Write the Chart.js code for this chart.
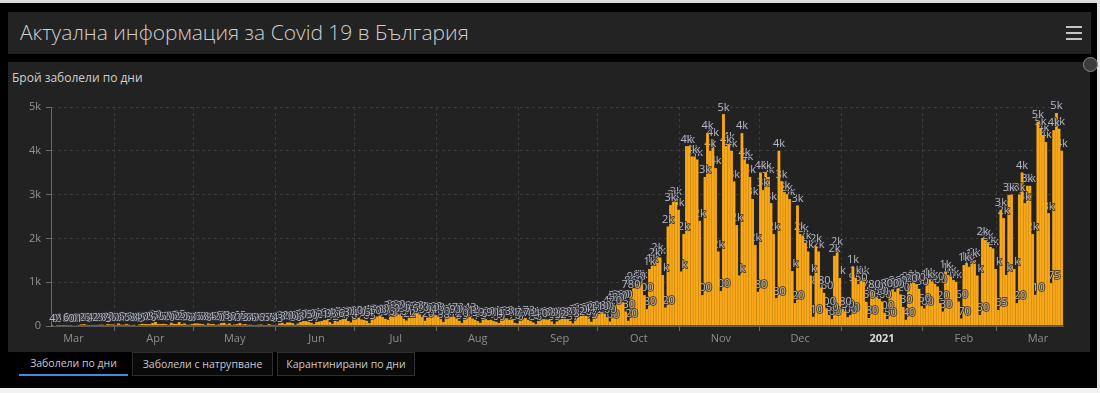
<!DOCTYPE html>
<html>
<head>
<meta charset="utf-8">
<script src="https://cdn.jsdelivr.net/npm/chart.js@4.4.1/dist/chart.umd.min.js"></script>
<style>
    body { margin: 0; background: #000; width: 1100px; height: 393px; overflow: hidden; position: relative; font-family: "Open Sans", "Noto Sans", sans-serif; }
    .edgeTop { position: absolute; left: 0; top: 0; width: 1100px; height: 3px; background: #d9d9d9; }
    .edgeRight { position: absolute; left: 1097px; top: 0; width: 3px; height: 393px; background: #e6e6e6; }
    .edgeBottom { position: absolute; left: 0; top: 388px; width: 1100px; height: 5px; background: #f2f2f2; }
    .header { position: absolute; left: 8px; top: 12px; width: 1083px; height: 42px; background: #232323; }
    .header h1 { margin: 0; position: absolute; left: 12px; top: 6px; font-size: 21px; font-weight: 300; color: #cfcfcf; white-space: nowrap; }
    .menu { position: absolute; left: 1058px; top: 14px; width: 16px; }
    .menu span { display: block; height: 2px; background: #c4c4c4; margin-bottom: 4px; }
    .panel { position: absolute; left: 8px; top: 62px; width: 1082px; height: 290px; background: #222; }
    .ptitle { position: absolute; left: 4px; top: 7px; font-size: 12px; color: #cfcfcf; }
    .chartBox { position: absolute; left: 8px; top: 90px; width: 1082px; height: 260px; }
    .expand { position: absolute; left: 1083px; top: 57px; width: 13px; height: 13px; border-radius: 50%; background: #3c3c3c; border: 1px solid #8a8a8a; }
    .tab { position: absolute; top: 352px; height: 24px; line-height: 22px; font-size: 10.5px; color: #c8c8c8; text-align: center; box-sizing: border-box; white-space: nowrap; }
    .tab.active { border-bottom: 2px solid #3b8ede; }
    .tab.plain { border: 1px solid #2e2e2e; background: #0a0a0a; }
</style>
</head>
<body>
<div class="edgeTop"></div>
<div class="edgeRight"></div>
<div class="edgeBottom"></div>
<div class="header">
    <h1>Актуална информация за Covid 19 в България</h1>
    <div class="menu"><span></span><span></span><span></span></div>
</div>
<div class="panel">
    <div class="ptitle">Брой заболели по дни</div>
</div>
<div class="chartBox"><canvas id="dailyChart"></canvas></div>
<div class="expand"></div>
<div class="tab active" style="left:19px;width:109px;">Заболели по дни</div>
<div class="tab plain" style="left:132px;width:141px;">Заболели с натрупване</div>
<div class="tab plain" style="left:277px;width:138px;">Карантинирани по дни</div>

<script>
const FONT = '"Open Sans", "Noto Sans", sans-serif';

// new cases per day, one array per month (Mar 2020 starts on the 8th)
const mar2020 = [4, 0, 2, 1, 16, 8, 10, 10, 11, 11, 22, 31, 36, 24, 5, 22, 22, 23, 28, 27, 13, 40, 35, 30];
const apr2020 = [23, 55, 27, 26, 45, 28, 18, 24, 12, 35, 50, 42, 38, 36, 65, 90, 46, 45, 52, 40, 20, 75, 52, 42, 85, 40, 55, 25, 28, 41];
const may2020 = [56, 56, 48, 38, 18, 54, 45, 42, 20, 30, 61, 73, 30, 56, 21, 30, 37, 65, 33, 36, 24, 26, 19, 7, 26, 31, 15, 17, 36, 24, 8];
const jun2020 = [13, 58, 72, 40, 80, 76, 60, 26, 58, 90, 105, 110, 98, 70, 37, 92, 101, 110, 134, 128, 92, 52, 116, 101, 143, 160, 163, 114, 76, 190];
const jul2020 = [150, 191, 145, 134, 117, 63, 180, 198, 213, 240, 201, 166, 143, 240, 292, 330, 260, 229, 161, 122, 226, 269, 303, 287, 260, 199, 120, 204, 260, 268, 243];
const aug2020 = [211, 160, 88, 199, 247, 210, 209, 171, 120, 69, 181, 243, 212, 171, 139, 106, 75, 149, 159, 131, 141, 114, 98, 60, 163, 183, 171, 141, 147, 70, 56];
const sep2020 = [137, 151, 178, 142, 114, 76, 38, 110, 148, 160, 148, 139, 103, 39, 102, 148, 172, 171, 160, 108, 57, 162, 210, 234, 262, 234, 167, 95, 281, 298];
const oct2020 = [270, 290, 280, 200, 100, 420, 480, 520, 560, 540, 330, 120, 780, 860, 960, 1010, 1000, 700, 380, 1300, 1380, 1520, 1620, 1560, 1160, 420, 2270, 2760, 2840, 2910, 2650];
const nov2020 = [1240, 2100, 4100, 4100, 3870, 3870, 3800, 2400, 700, 3400, 4400, 4000, 4250, 3600, 1700, 800, 4830, 4100, 4150, 4000, 3300, 2300, 1150, 4400, 3800, 3700, 3400, 2900, 1850, 780];
const dec2020 = [3500, 3100, 3500, 3400, 2800, 2100, 630, 4000, 3300, 3050, 3000, 2900, 1250, 520, 2750, 2100, 2050, 1900, 1700, 1150, 210, 1820, 1700, 880, 760, 400, 250, 160, 1600, 1770, 1090];
const jan2021 = [380, 330, 200, 250, 1350, 1100, 950, 1050, 1100, 550, 180, 780, 740, 650, 620, 560, 300, 150, 800, 830, 780, 860, 720, 430, 140, 920, 970, 1000, 950, 850, 450];
const feb2021 = [400, 1000, 1060, 1010, 960, 900, 520, 330, 1240, 1160, 1130, 1050, 1010, 560, 170, 1390, 1430, 1350, 1480, 1500, 1150, 250, 2000, 1960, 1900, 1800, 1770, 1300];
const mar2021 = [365, 2650, 2460, 1160, 2990, 3000, 1300, 520, 3000, 3500, 2800, 3200, 3200, 2100, 710, 4660, 4500, 4360, 4200, 2570, 975, 4470, 4860, 4500, 4000];

const monthNames = ['Mar', 'Apr', 'May', 'Jun', 'Jul', 'Aug', 'Sep', 'Oct', 'Nov', 'Dec', '2021', 'Feb', 'Mar'];
const monthFirstDay = [8, 1, 1, 1, 1, 1, 1, 1, 1, 1, 1, 1, 1];
const monthData = [mar2020, apr2020, may2020, jun2020, jul2020, aug2020, sep2020, oct2020, nov2020, dec2020, jan2021, feb2021, mar2021];

const yTicks = [0, 1000, 2000, 3000, 4000, 5000];

let labels = [];
let values = [];
let tickText = [];
let monthStart = [];

monthData.forEach(function (arr, m) {
    arr.forEach(function (v, k) {
        let day = monthFirstDay[m] + k;
        labels.push(day + ' ' + monthNames[m]);
        values.push(v);
        tickText.push(day === 16 ? monthNames[m] : '');
        monthStart.push(day === 1);
    });
});

function shortNum(v) {
    if (v >= 1000) return Math.round(v / 1000) + 'k';
    return String(v);
}

// bars are drawn right to left, each label right after its bar,
// so the bar on the left covers part of the label
const barLabels = {
    id: 'barLabels',
    beforeDatasetsDraw(chart) {
        let ctx = chart.ctx;
        let bars = chart.getDatasetMeta(0).data;
        ctx.save();
        ctx.font = '11px ' + FONT;
        ctx.textAlign = 'center';
        ctx.textBaseline = 'middle';
        ctx.lineJoin = 'round';
        for (let i = bars.length - 1; i >= 0; i--) {
            bars[i].draw(ctx);
            let txt = shortNum(values[i]);
            let y = bars[i].y - 7;
            ctx.lineWidth = 2;
            ctx.strokeStyle = 'rgba(40,40,44,0.75)';
            ctx.strokeText(txt, bars[i].x, y);
            ctx.fillStyle = '#b4b7c4';
            ctx.fillText(txt, bars[i].x, y);
        }
        ctx.restore();
        return false;
    }
};

const chart = new Chart(document.getElementById('dailyChart'), {
    type: 'bar',
    data: {
        labels: labels,
        datasets: [{
            data: values,
            backgroundColor: '#f8a81a',
            borderColor: '#c9870e',
            borderWidth: 0.5,
            barPercentage: 1,
            categoryPercentage: 1
        }]
    },
    options: {
        responsive: true,
        maintainAspectRatio: false,
        animation: false,
        layout: { padding: { top: 17, right: 27, left: 0, bottom: 0 } },
        plugins: {
            legend: { display: false },
            tooltip: { enabled: false }
        },
        scales: {
            x: {
                grid: {
                    offset: true,
                    color: c => monthStart[c.index] ? '#3c3c3c' : 'transparent',
                    tickColor: c => monthStart[c.index] ? '#6a6a6a' : 'transparent',
                    tickLength: 5
                },
                border: { display: true, color: '#5a5a5a', dash: [3, 3] },
                ticks: {
                    autoSkip: false,
                    maxRotation: 0,
                    minRotation: 0,
                    padding: 1,
                    color: c => tickText[c.index] === '2021' ? '#d8d8d8' : '#8e8e8e',
                    font: c => ({ family: FONT, size: 11, weight: tickText[c.index] === '2021' ? 'bold' : 'normal' }),
                    callback: (v, i) => tickText[i]
                },
                afterFit: s => { s.height = 24; }
            },
            y: {
                min: 0,
                max: 5000,
                afterBuildTicks: s => { s.ticks = yTicks.map(v => ({ value: v })); },
                grid: {
                    color: c => c.tick && c.tick.value === 0 ? 'transparent' : '#3a3a3a',
                    tickColor: '#6a6a6a',
                    tickLength: 5
                },
                border: { display: true, color: '#6a6a6a', dash: [3, 3] },
                ticks: {
                    padding: 5,
                    color: '#939393',
                    font: { family: FONT, size: 11 },
                    callback: v => v === 0 ? '0' : (v / 1000) + 'k'
                },
                afterFit: s => { s.width = 43; }
            }
        }
    },
    plugins: [barLabels]
});
</script>
</body>
</html>
